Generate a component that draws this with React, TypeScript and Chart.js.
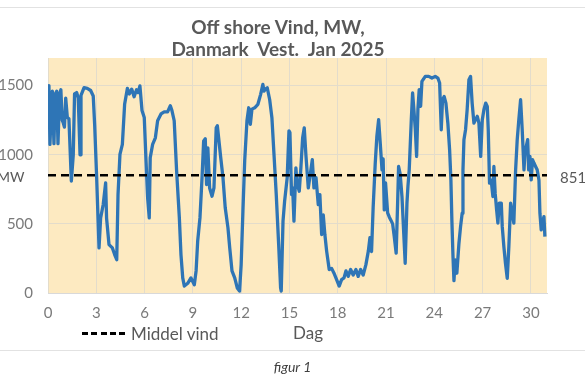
import React, { useEffect, useRef } from "react";
import { Chart, registerables } from "chart.js";

Chart.register(...registerables);

// Day of January 2025 (fractional) and offshore wind production in MW
const days = [
  0.0, 0.06, 0.12, 0.2, 0.27, 0.37, 0.45, 0.54, 0.62, 0.72, 0.8, 0.88, 0.95, 1.02, 1.1, 1.2, 1.3, 1.45, 1.57, 1.65,
  1.78, 1.88, 1.99, 2.05, 2.24, 2.44, 2.65, 2.81, 2.9, 3.02, 3.17, 3.27, 3.43, 3.58, 3.64, 3.79, 4.0, 4.14, 4.27, 4.35,
  4.47, 4.62, 4.76, 4.93, 5.05, 5.2, 5.35, 5.5, 5.6, 5.71, 5.84, 5.98, 6.09, 6.19, 6.29, 6.35, 6.5, 6.67, 6.81, 7.02,
  7.22, 7.43, 7.6, 7.7, 7.84, 7.99, 8.16, 8.26, 8.37, 8.47, 8.68, 8.88, 9.09, 9.2, 9.3, 9.44, 9.57, 9.67, 9.77, 9.85,
  9.93, 10.04, 10.19, 10.31, 10.45, 10.52, 10.6, 10.73, 10.87, 11.01, 11.18, 11.29, 11.43, 11.6, 11.76, 11.9, 12.0, 12.11, 12.22, 12.36,
  12.47, 12.57, 12.67, 12.84, 13.04, 13.21, 13.35, 13.42, 13.5, 13.62, 13.77, 13.91, 14.04, 14.18, 14.33, 14.45, 14.49, 14.6, 14.7, 14.86,
  14.97, 15.03, 15.13, 15.2, 15.28, 15.4, 15.48, 15.61, 15.71, 15.82, 15.92, 16.02, 16.17, 16.32, 16.42, 16.52, 16.65, 16.79, 16.89, 17.0,
  17.1, 17.2, 17.31, 17.47, 17.62, 17.76, 17.93, 18.09, 18.24, 18.39, 18.51, 18.65, 18.8, 18.96, 19.13, 19.27, 19.42, 19.58, 19.75, 19.9,
  20.0, 20.1, 20.2, 20.33, 20.43, 20.54, 20.64, 20.75, 20.82, 20.89, 20.97, 21.1, 21.2, 21.3, 21.41, 21.51, 21.63, 21.72, 21.78, 21.88,
  21.99, 22.09, 22.19, 22.3, 22.36, 22.44, 22.57, 22.65, 22.73, 22.82, 22.9, 22.98, 23.06, 23.15, 23.23, 23.44, 23.65, 23.85, 24.06, 24.22,
  24.33, 24.43, 24.51, 24.61, 24.72, 24.84, 24.95, 25.03, 25.09, 25.16, 25.22, 25.3, 25.4, 25.53, 25.63, 25.73, 25.78, 25.84, 25.94, 26.04,
  26.15, 26.25, 26.35, 26.46, 26.56, 26.67, 26.77, 26.88, 26.98, 27.08, 27.19, 27.29, 27.35, 27.43, 27.53, 27.64, 27.7, 27.78, 27.87, 27.95,
  28.03, 28.16, 28.22, 28.32, 28.42, 28.53, 28.63, 28.74, 28.84, 28.94, 29.05, 29.15, 29.25, 29.36, 29.46, 29.57, 29.63, 29.71, 29.8, 29.86,
  29.94, 30.02, 30.1, 30.19, 30.29, 30.39, 30.5, 30.56, 30.64, 30.72, 30.81, 30.87,
];

const mw = [
  1500, 1490, 1075, 1300, 1460, 1080, 1440, 1460, 1080, 1440, 1470, 1250, 1230, 1200, 1410, 1270, 1260, 810, 1000, 1440,
  1450, 1410, 1000, 1430, 1485, 1480, 1465, 1425, 1215, 845, 326, 543, 640, 797, 540, 350, 326, 278, 241, 712,
  1002, 1075, 1365, 1480, 1440, 1475, 1420, 1470, 1450, 1498, 1320, 1270, 955, 688, 543, 978, 1075, 1123, 1246, 1295,
  1310, 1310, 1355, 1320, 1246, 884, 543, 278, 109, 50, 70, 109, 60, 160, 376, 543, 835, 1100, 1115, 785,
  1050, 760, 700, 760, 1195, 1210, 1123, 980, 835, 616, 471, 326, 160, 109, 36, 14, 205, 594, 957, 1246,
  1340, 1220, 1330, 1340, 1365, 1437, 1509, 1460, 1475, 1485, 1400, 1268, 1002, 712, 350, 36, 14, 520, 665, 835,
  1173, 1160, 712, 760, 520, 905, 790, 736, 905, 1123, 1195, 1002, 760, 880, 965, 760, 835, 640, 712, 423,
  565, 423, 303, 170, 178, 145, 97, 50, 97, 109, 160, 120, 170, 130, 170, 120, 170, 130, 205, 303,
  400, 300, 620, 940, 1133, 1254, 1085, 891, 970, 601, 797, 580, 550, 527, 500, 408, 288, 650, 915, 860,
  698, 456, 215, 650, 770, 891, 1254, 1447, 1328, 1181, 988, 1328, 1471, 1351, 1531, 1567, 1567, 1555, 1567, 1555,
  1519, 1181, 1398, 1422, 1374, 1230, 1036, 818, 528, 263, 90, 240, 143, 360, 480, 577, 891, 1109, 1181, 1326,
  1543, 1567, 1374, 1229, 1254, 1278, 1229, 988, 1254, 1326, 1374, 1350, 1181, 795, 818, 698, 915, 722, 601, 505,
  650, 650, 480, 336, 215, 106, 336, 650, 577, 505, 891, 1109, 1254, 1398, 1181, 891, 1012, 1060, 1109, 891,
  988, 818, 964, 940, 915, 891, 818, 577, 456, 505, 553, 408,
];

const meanMW = 851;
const meanDays = [0, 31];
const xTicks = [0, 3, 6, 9, 12, 15, 18, 21, 24, 27, 30];
const yTicks = [0, 500, 1000, 1500];
const yMax = 1700;
const dayMax = 31;

const titleLines = ["Off shore Vind, MW,", "Danmark  Vest.  Jan 2025"];

const FONT = "Lato, 'Open Sans', sans-serif";

const plotBg = {
  id: "plotBg",
  beforeDraw(chart: any) {
    const { ctx, chartArea } = chart;
    ctx.save();
    ctx.fillStyle = "#FDEAC1";
    ctx.fillRect(chartArea.left, chartArea.top, chartArea.right - chartArea.left, chartArea.bottom - chartArea.top);
    ctx.restore();
  },
};

export default function App() {
  const ref = useRef<HTMLCanvasElement | null>(null);

  useEffect(() => {
    if (!ref.current) return;
    const chart = new Chart(ref.current, {
      type: "line",
      data: {
        datasets: [
          {
            label: "Middel vind",
            data: meanDays.map((d) => ({ x: d, y: meanMW })),
            borderColor: "#000000",
            borderWidth: 2.5,
            borderDash: [8, 5],
            pointRadius: 0,
            order: 0,
          },
          {
            label: "MW",
            data: days.map((d, i) => ({ x: d, y: mw[i] })),
            borderColor: "#2E75B6",
            borderWidth: 3.3,
            pointRadius: 0,
            tension: 0,
            borderJoinStyle: "round",
            order: 1,
          },
        ],
      },
      options: {
        animation: false,
        responsive: false,
        maintainAspectRatio: false,
        layout: { padding: { top: 58, right: 38, bottom: 52, left: 0 } },
        plugins: { legend: { display: false }, tooltip: { enabled: false }, title: { display: false } },
        scales: {
          x: {
            type: "linear",
            min: 0,
            max: dayMax,
            afterFit: (s: any) => {
              s.height = 35;
            },
            afterBuildTicks: (s: any) => {
              s.ticks = xTicks.map((v) => ({ value: v }));
            },
            ticks: {
              padding: 11,
              color: "#7a7a7a",
              font: { family: FONT, size: 15 },
              maxRotation: 0,
              autoSkip: false,
              callback: (v: any) => String(v),
            },
            grid: { color: "#E3DCCB", lineWidth: 1, drawTicks: false },
            border: { display: true, color: "#D9D9D9", width: 1 },
          },
          y: {
            min: 0,
            max: yMax,
            afterFit: (s: any) => {
              s.width = 48;
            },
            afterBuildTicks: (s: any) => {
              s.ticks = yTicks.map((v) => ({ value: v }));
            },
            ticks: {
              padding: 15,
              color: "#7a7a7a",
              font: { family: FONT, size: 15 },
              autoSkip: false,
              callback: (v: any) => String(v),
            },
            grid: { color: "#E3DCCB", lineWidth: 1, drawTicks: false },
            border: { display: false },
          },
        },
      },
      plugins: [plotBg],
    } as any);
    return () => chart.destroy();
  }, []);

  const textBase: React.CSSProperties = {
    position: "absolute",
    fontFamily: FONT,
    whiteSpace: "pre",
    lineHeight: 1,
  };

  return (
    <div
      style={{
        position: "absolute",
        left: 0,
        top: 0,
        width: 585,
        height: 380,
        overflow: "hidden",
        background: "#ffffff",
      }}
    >
      <div style={{ position: "absolute", left: 0, top: 7, width: 585, height: 1, background: "#E2E2E2" }} />
      <canvas ref={ref} width={585} height={380} style={{ position: "absolute", left: 0, top: 0 }} />
      <div
        style={{
          ...textBase,
          left: 128,
          width: 300,
          top: 16,
          textAlign: "center",
          fontWeight: 700,
          fontSize: 19,
          color: "#595959",
          lineHeight: "22px",
        }}
      >
        {titleLines.join("\n")}
      </div>
      <div style={{ ...textBase, left: -3, top: 170, fontSize: 14, color: "#595959" }}>MW</div>
      <div style={{ ...textBase, left: 560, top: 170, fontSize: 15, color: "#595959" }}>{String(meanMW)}</div>
      <div
        style={{
          position: "absolute",
          left: 82,
          top: 332,
          width: 46,
          height: 3,
          background: "repeating-linear-gradient(90deg, #000 0px, #000 6px, transparent 6px, transparent 9.3px)",
        }}
      />
      <div style={{ ...textBase, left: 131, top: 325, fontSize: 17, color: "#595959" }}>Middel vind</div>
      <div style={{ ...textBase, left: 293, top: 324, fontSize: 17, color: "#595959" }}>Dag</div>
      <div style={{ position: "absolute", left: 0, top: 350, width: 585, height: 1, background: "#E2E2E2" }} />
      <div
        style={{
          ...textBase,
          left: 0,
          width: 585,
          top: 360,
          textAlign: "center",
          fontStyle: "italic",
          fontSize: 14,
          color: "#404040",
        }}
      >
        {"figur 1"}
      </div>
    </div>
  );
}
